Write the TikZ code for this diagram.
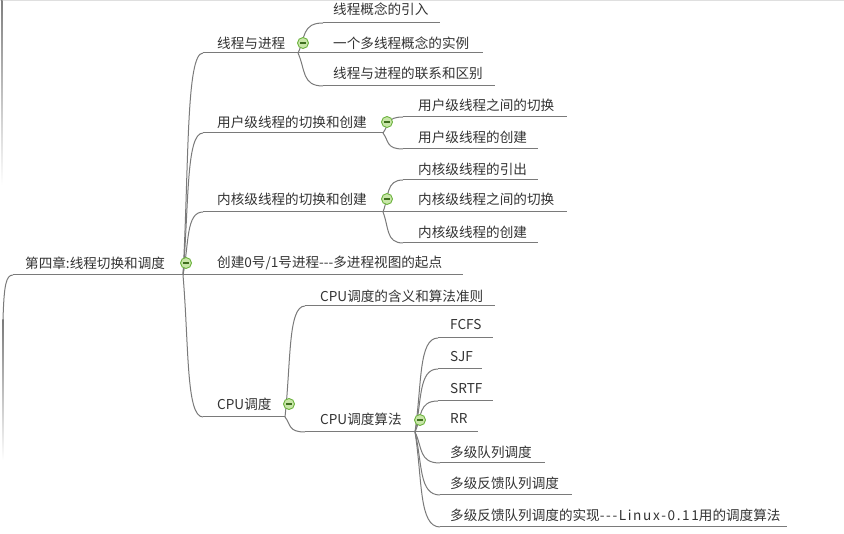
\documentclass[tikz,border=0pt]{standalone}
\usepackage{fontspec}
\newfontfamily\cjk{Noto Sans CJK SC}
\newfontfamily\cjkls[LetterSpace=12]{Noto Sans CJK SC}
\usetikzlibrary{calc}
\definecolor{txt}{HTML}{333333}
\definecolor{ln}{HTML}{7A7A7A}
\definecolor{gbd}{HTML}{6DB33F}
\definecolor{gfill}{HTML}{C8E6A8}
\definecolor{gmin}{HTML}{3F6F1F}
\tikzset{
 topictext/.style={anchor=west, inner sep=0pt, text=txt, font=\cjk\fontsize{13.6}{16}\selectfont},
 link/.style={draw=ln, line width=1pt},
 minusmark/.style={circle, draw=gbd, line width=0.9pt, fill=gfill, minimum size=11pt, inner sep=0pt,
   path picture={\draw[gmin,line width=1.3pt] ([xshift=-3pt]path picture bounding box.center) -- ([xshift=3pt]path picture bounding box.center);}},
}
\newcommand\mmtopic[6]{%
  \coordinate (#1-l) at (#2,#4);
  \coordinate (#1-r) at (#3,#4);
  \node[topictext] (#1) at (#5) {#6};
  \draw[link] (#1-l) -- (#1-r);
}
\newcommand\mmconn[2]{\draw[link] let \p1=(#1), \p2=(#2) in (\p1) .. controls ({\x1+0.3*(\x2-\x1)},{\y1+0.5*(\y2-\y1)}) and ({\x1+0.15*(\x2-\x1)},{\y2}) .. (\p2);}
\begin{document}
\begin{tikzpicture}[x=1pt,y=-1pt]
\useasboundingbox (0,0) rectangle (844,534);
\fill[white] (0,0) rectangle (844,534);
% edge fragments
\draw[gray!25, line width=1.5pt] (0,0.75) -- (844,0.75);
\shade[top color=gray, bottom color=white] (1,0) rectangle (2.6,185);
% root
\mmtopic{root}{13}{183}{275}{25,263}{第四章:线程切换和调度}
\coordinate (rootparent) at (3,320);
\draw[link] (root-l) .. controls (6,275) and (4,285) .. (rootparent);
\shade[top color=ln, bottom color=white] (2.4,320) rectangle (3.6,460);
% level 1
\mmtopic{A}{203}{298}{53}{217,43}{线程与进程}
\mmtopic{B}{203}{383}{133}{217,122}{用户级线程的切换和创建}
\mmtopic{C}{203}{383}{212}{217,199}{内核级线程的切换和创建}
\mmtopic{D}{183}{463}{275}{217,263}{创建0号/1号进程---多进程视图的起点}
\mmtopic{E}{203}{285}{417}{217,404}{CPU调度}
\mmconn{root-r}{A-l}
\mmconn{root-r}{B-l}
\mmconn{root-r}{C-l}
\mmconn{root-r}{E-l}
% A children
\mmtopic{A1}{323}{440}{23}{333,9}{线程概念的引入}
\mmtopic{A2}{298}{483}{53}{333,43}{一个多线程概念的实例}
\mmtopic{A3}{323}{495}{86}{333,73}{线程与进程的联系和区别}
\mmconn{A-r}{A1-l}
\mmconn{A-r}{A3-l}
% B children
\mmtopic{B1}{403}{567}{117}{418,105}{用户级线程之间的切换}
\mmtopic{B2}{403}{538}{149}{418,137}{用户级线程的创建}
\mmconn{B-r}{B1-l}
\mmconn{B-r}{B2-l}
% C children
\mmtopic{C1}{403}{538}{180}{418,169}{内核级线程的引出}
\mmtopic{C2}{383}{567}{212}{418,199}{内核级线程之间的切换}
\mmtopic{C3}{403}{538}{243}{418,232}{内核级线程的创建}
\mmconn{C-r}{C1-l}
\mmconn{C-r}{C3-l}
% E children
\mmtopic{E1}{305}{495}{306}{320,296}{CPU调度的含义和算法准则}
\mmtopic{E2}{305}{415}{432}{320,419}{CPU调度算法}
\mmconn{E-r}{E1-l}
\mmconn{E-r}{E2-l}
% E2 children
\mmtopic{F1}{438}{493}{338}{450,325}{FCFS}
\mmtopic{F2}{438}{482}{369}{450,357}{SJF}
\mmtopic{F3}{438}{493}{401}{450,389}{SRTF}
\mmtopic{F4}{415}{478}{432}{450,419}{RR}
\mmtopic{F5}{440}{545}{463}{450,452}{多级队列调度}
\mmtopic{F6}{440}{572}{495}{450,483}{多级反馈队列调度}
\mmtopic{F7}{440}{787}{527}{450,515}{多级反馈队列调度的实现{\cjkls\fontsize{13.6}{16}\selectfont ---Linux-0.11}用的调度算法}
\mmconn{E2-r}{F1-l}
\mmconn{E2-r}{F2-l}
\mmconn{E2-r}{F3-l}
\mmconn{E2-r}{F5-l}
\mmconn{E2-r}{F6-l}
\mmconn{E2-r}{F7-l}
% collapse marks
\node[minusmark] (mroot) at (186,263) {};
\node[minusmark] (mA) at (303,43) {};
\node[minusmark] (mB) at (387,122) {};
\node[minusmark] (mC) at (387,199) {};
\node[minusmark] (mE) at (289,404) {};
\node[minusmark] (mE2) at (420,420) {};
\end{tikzpicture}
\end{document}
